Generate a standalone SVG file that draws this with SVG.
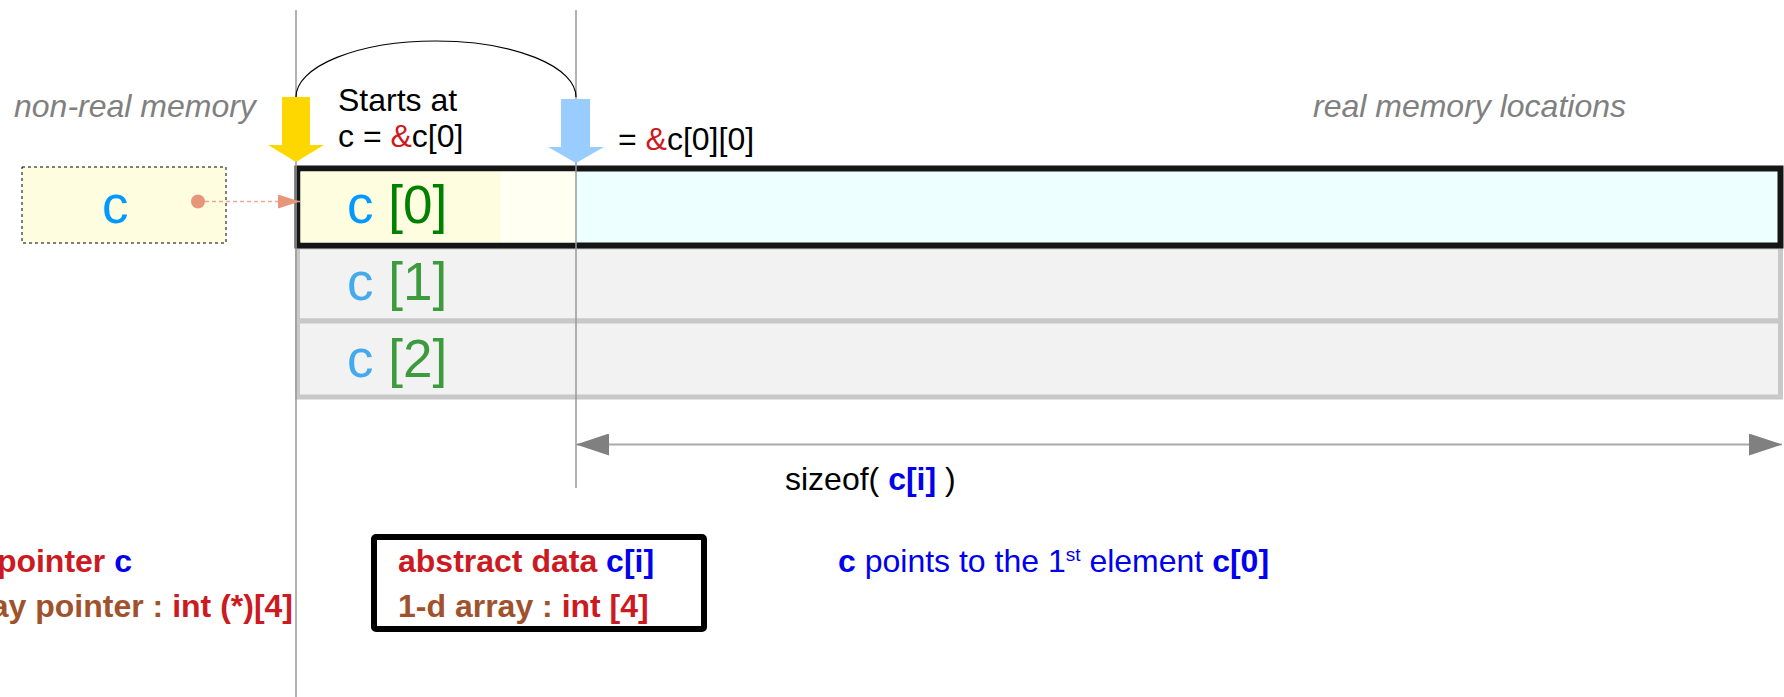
<svg xmlns="http://www.w3.org/2000/svg" width="1784" height="697" viewBox="0 0 1784 697">
<style>
text{font-family:"Liberation Sans",Arial,sans-serif}
.note{font-size:32px;font-style:italic;fill:#808080}
.lbl{font-size:32px;fill:#000}
.big{font-size:53px}
.b{font-size:32px;font-weight:bold}
.red{fill:#cc1a22}
.brn{fill:#a0522d}
.blu{fill:#0000ee}
.vline{stroke:#999;stroke-width:1.5;fill:none}
</style>
<defs>
<marker id="ah" viewBox="0 0 33 22" refX="33" refY="11" markerWidth="33" markerHeight="22" markerUnits="userSpaceOnUse" orient="auto-start-reverse">
<path d="M0,0 L33,11 L0,22 Z" fill="#808080"/>
</marker>
<marker id="sal" viewBox="0 0 22 14" refX="22" refY="7" markerWidth="22" markerHeight="14" markerUnits="userSpaceOnUse" orient="auto">
<path d="M0,0 L22,7 L0,14 Z" fill="#e8967a"/>
</marker>
</defs>
<rect width="1784" height="697" fill="#fff"/>

<text class="note" x="14" y="117">non-real memory</text>
<text class="note" x="1313" y="117">real memory locations</text>

<g id="row1">
<rect x="297.5" y="247" width="1483" height="74" fill="#f2f2f2" stroke="#c8c8c8" stroke-width="5"/>
<text class="big" x="347" y="300"><tspan fill="#44aaee">c</tspan> <tspan fill="#3d9a3d">[1]</tspan></text>
</g>
<g id="row2">
<rect x="297.5" y="321" width="1483" height="76" fill="#f2f2f2" stroke="#c8c8c8" stroke-width="5"/>
<text class="big" x="347" y="377"><tspan fill="#44aaee">c</tspan> <tspan fill="#3d9a3d">[2]</tspan></text>
</g>
<g id="row0">
<rect x="297.5" y="168.5" width="1483" height="77" fill="#eeffff" stroke="#151515" stroke-width="6"/>
<rect x="300.5" y="171.5" width="200" height="71" fill="#fffde0"/>
<rect x="500.5" y="171.5" width="75.5" height="71" fill="#fffff2"/>
<text class="big" x="347" y="223"><tspan fill="#0099ff">c</tspan> <tspan fill="#008000">[0]</tspan></text>
</g>

<g id="ptr">
<rect x="22" y="167" width="204" height="76" fill="#fffde0" stroke="#000" stroke-width="1" stroke-dasharray="3,3"/>
<text class="big" x="102" y="223" fill="#0099ff">c</text>
</g>

<g id="connectors">
<line class="vline" x1="296" y1="10" x2="296" y2="697"/>
<line class="vline" x1="576" y1="10" x2="576" y2="488"/>
<path d="M296,97 A140,56 0 0 1 576,97" fill="none" stroke="#000" stroke-width="1.2"/>
<line x1="198" y1="201.5" x2="300" y2="201.5" stroke="#f0a890" stroke-width="1.5" stroke-dasharray="4,3" marker-end="url(#sal)"/>
<circle cx="198" cy="201.5" r="7" fill="#e8967a"/>
<path d="M282,97 H310 V145 H324 L296,162 L268,145 H282 Z" fill="#ffd700"/>
<path d="M561,99 H590 V147 H604 L576,163 L548,147 H561 Z" fill="#99ccff"/>
<line x1="576" y1="444.5" x2="1782" y2="444.5" stroke="#aaa" stroke-width="2" marker-start="url(#ah)" marker-end="url(#ah)"/>
</g>

<g id="labels">
<text class="lbl" x="338" y="111">Starts at</text>
<text class="lbl" x="338" y="147">c = <tspan class="red">&amp;</tspan>c[0]</text>
<text class="lbl" x="618" y="150">= <tspan class="red">&amp;</tspan>c[0][0]</text>
<text class="lbl" x="785" y="490">sizeof( <tspan class="blu" font-weight="bold">c[i]</tspan> )</text>
</g>

<g id="left-text">
<text class="b" x="132" y="572" text-anchor="end"><tspan class="red">pointer </tspan><tspan class="blu">c</tspan></text>
<text class="b" x="293" y="617" text-anchor="end"><tspan class="brn">ay pointer : </tspan><tspan class="red">int (*)[4]</tspan></text>
</g>

<g id="abstract">
<rect x="374" y="537" width="330" height="92" rx="2" fill="none" stroke="#000" stroke-width="6"/>
<text class="b" x="398" y="572"><tspan class="red">abstract data </tspan><tspan class="blu">c[i]</tspan></text>
<text class="b" x="398" y="617"><tspan class="brn">1-d array : </tspan><tspan class="red">int [4]</tspan></text>
</g>

<g id="desc">
<text x="838" y="572" font-size="32" class="blu"><tspan font-weight="bold">c</tspan> points to the 1<tspan font-size="19" dy="-11">st</tspan><tspan dy="11"> element </tspan><tspan font-weight="bold">c[0]</tspan></text>
</g>
</svg>
